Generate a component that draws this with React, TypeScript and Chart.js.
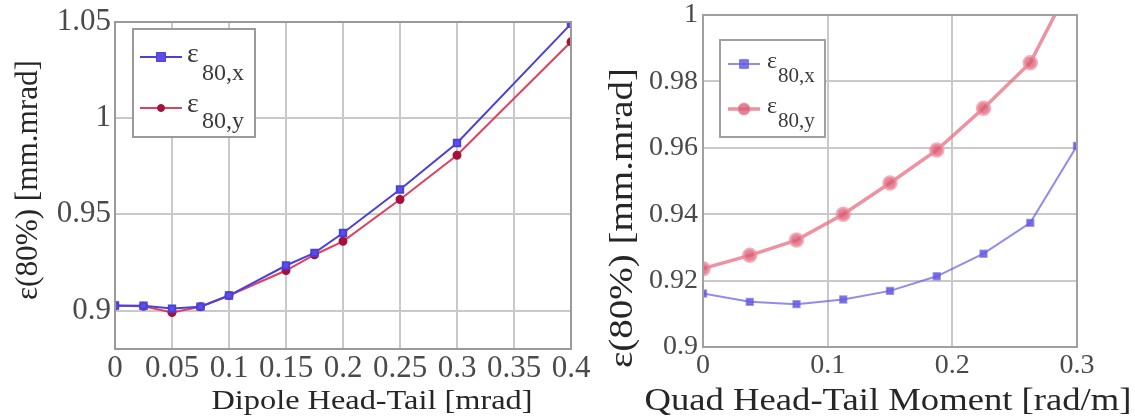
import React, { useEffect, useRef } from "react";
import { Chart, registerables } from "chart.js";

Chart.register(...registerables);

// ---- Data: left panel (dipole head-tail) ----
const dipoleHeadTail = [0, 0.025, 0.05, 0.075, 0.1, 0.15, 0.175, 0.2, 0.25, 0.3, 0.4];
const dipoleEmitX = [0.9026, 0.9025, 0.901, 0.902, 0.9078, 0.9234, 0.93, 0.9403, 0.9629, 0.9871, 1.049];
const dipoleEmitY = [0.9025, 0.9022, 0.899, 0.902, 0.9078, 0.9208, 0.929, 0.936, 0.9577, 0.9807, 1.0397];
const dipoleXTicks = [0, 0.05, 0.1, 0.15, 0.2, 0.25, 0.3, 0.35, 0.4];
const dipoleYTicks = [0.9, 0.95, 1, 1.05];

// ---- Data: right panel (quad head-tail moment) ----
const quadMoment = [0, 0.0375, 0.075, 0.1125, 0.15, 0.1875, 0.225, 0.2625, 0.3];
const quadEmitX = [0.9161, 0.9136, 0.9129, 0.9143, 0.9169, 0.9213, 0.9281, 0.9374, 0.9606];
const quadEmitY = [0.9236, 0.9276, 0.9322, 0.94, 0.9494, 0.9593, 0.9719, 0.9856, 1.013];
const quadXTicks = [0, 0.1, 0.2, 0.3];
const quadYTicks = [0.9, 0.92, 0.94, 0.96, 0.98, 1];

const seriesSubs = ["80,x", "80,y"];
const yTitle = "ε(80%) [mm.mrad]";
const leftXTitle = "Dipole Head-Tail [mrad]";
const rightXTitle = "Quad Head-Tail Moment [rad/m]";

const FONT = '"Liberation Serif", "Times New Roman", serif';

const decorPlugin = {
  id: "decor",
  afterDatasetsDraw(chart: any, _args: any, opts: any) {
    const { ctx, chartArea: a } = chart;
    ctx.save();
    // plot frame
    ctx.strokeStyle = opts.frameColor;
    ctx.lineWidth = opts.frameWidth;
    ctx.strokeRect(a.left, a.top, a.right - a.left, a.bottom - a.top);

    // legend
    const L = opts.legend;
    const x0 = a.left + L.dx;
    const y0 = a.top + L.dy;
    ctx.fillStyle = "#ffffff";
    ctx.fillRect(x0, y0, L.w, L.h);
    ctx.strokeStyle = L.border;
    ctx.lineWidth = 2;
    ctx.strokeRect(x0, y0, L.w, L.h);

    chart.data.datasets.forEach((ds: any, i: number) => {
      const y = y0 + L.rows[i];
      ctx.strokeStyle = ds.borderColor;
      ctx.lineWidth = ds.borderWidth;
      ctx.beginPath();
      ctx.moveTo(x0 + L.lineX0, y);
      ctx.lineTo(x0 + L.lineX1, y);
      ctx.stroke();
      const mx = x0 + (L.lineX0 + L.lineX1) / 2;
      const r = ds.pointRadius;
      ctx.fillStyle = ds.pointBackgroundColor;
      ctx.strokeStyle = ds.pointBorderColor;
      ctx.lineWidth = 1;
      ctx.beginPath();
      if (ds.pointStyle === "rect") {
        ctx.rect(mx - r, y - r, 2 * r, 2 * r);
      } else {
        ctx.arc(mx, y, r, 0, Math.PI * 2);
      }
      ctx.fill();
      ctx.stroke();

      ctx.fillStyle = L.textColor;
      ctx.textAlign = "left";
      ctx.textBaseline = "alphabetic";
      ctx.font = `${L.mainSize}px ${FONT}`;
      ctx.fillText("ε", x0 + L.textX, y + L.mainDy[i]);
      ctx.font = `${L.subSize}px ${FONT}`;
      ctx.fillText(seriesSubs[i], x0 + L.subX, y + L.subDy[i]);
    });
    ctx.restore();
  },
  afterDraw(chart: any, _args: any, opts: any) {
    const { ctx } = chart;
    (opts.titles || []).forEach((t: any) => {
      ctx.save();
      ctx.fillStyle = t.color;
      ctx.font = `${t.size}px ${FONT}`;
      ctx.textAlign = "center";
      ctx.textBaseline = "middle";
      const w = ctx.measureText(t.text).width;
      const stretch = t.length / w;
      ctx.translate(t.x, t.y);
      if (t.rotate) ctx.rotate(-Math.PI / 2);
      ctx.scale(stretch, 1);
      ctx.fillText(t.text, 0, 0);
      ctx.restore();
    });
  },
};

function buildConfig(p: any) {
  return {
    type: "line",
    data: { datasets: p.datasets },
    options: {
      responsive: false,
      animation: false,
      events: [],
      layout: { padding: p.padding },
      plugins: {
        legend: { display: false },
        tooltip: { enabled: false },
        decor: p.decor,
      },
      scales: {
        x: {
          type: "linear",
          min: p.xMin,
          max: p.xMax,
          afterBuildTicks: (s: any) => {
            s.ticks = p.xTicks.map((v: number) => ({ value: v }));
          },
          afterFit: (s: any) => {
            s.height = p.xAxisH;
            s.paddingLeft = 0;
            s.paddingRight = 0;
          },
          ticks: {
            autoSkip: false,
            maxRotation: 0,
            minRotation: 0,
            padding: p.xTickPad,
            color: "#4a4a4a",
            font: { family: FONT, size: p.tickSize },
            callback: (v: any) => String(v),
          },
          grid: { color: "#c9c9c9", lineWidth: 2, drawTicks: false },
          border: { display: false },
          title: { display: false },
        },
        y: {
          type: "linear",
          min: p.yMin,
          max: p.yMax,
          afterBuildTicks: (s: any) => {
            s.ticks = p.yTicks.map((v: number) => ({ value: v }));
          },
          afterFit: (s: any) => {
            s.width = p.yAxisW;
            s.paddingTop = 0;
            s.paddingBottom = 0;
          },
          ticks: {
            autoSkip: false,
            padding: p.yTickPad,
            color: "#4a4a4a",
            font: { family: FONT, size: p.tickSize },
            callback: (v: any) => String(v),
          },
          grid: { color: "#c9c9c9", lineWidth: 2, drawTicks: false },
          border: { display: false },
          title: { display: false },
        },
      },
    },
    plugins: [decorPlugin],
  } as any;
}

function toPoints(xs: number[], ys: number[]) {
  return xs.map((x, i) => ({ x, y: ys[i] }));
}

const leftConfig = () =>
  buildConfig({
    padding: { left: 0, right: 29, top: 22, bottom: 0 },
    xMin: 0,
    xMax: 0.4,
    yMin: 0.88,
    yMax: 1.05,
    xTicks: dipoleXTicks,
    yTicks: dipoleYTicks,
    xAxisH: 71,
    yAxisW: 115,
    xTickPad: 1,
    yTickPad: 4,
    tickSize: 31,
    decor: {
      frameColor: "#9a9a9a",
      frameWidth: 2,
      titles: [
        { text: leftXTitle, x: 372, y: 402, size: 28, length: 321, rotate: false, color: "#262626" },
        { text: yTitle, x: 29, y: 180, size: 31, length: 240, rotate: true, color: "#262626" },
      ],
      legend: {
        dx: 18, dy: 7, w: 122, h: 108, border: "#9a9a9a",
        rows: [28, 79], lineX0: 7, lineX1: 49,
        textX: 54, subX: 69, mainDy: [5, 4], subDy: [23, 20],
        mainSize: 28, subSize: 24, textColor: "#3a3a3a",
      },
    },
    datasets: [
      {
        label: "ε80,x",
        data: toPoints(dipoleHeadTail, dipoleEmitX),
        borderColor: "#4b41da",
        borderWidth: 2,
        pointStyle: "rect",
        pointRadius: 4.5,
        pointBackgroundColor: "#5a4fe8",
        pointBorderColor: "#4b41da",
        tension: 0,
      },
      {
        label: "ε80,y",
        data: toPoints(dipoleHeadTail, dipoleEmitY),
        borderColor: "#e0405e",
        borderWidth: 2,
        pointStyle: "circle",
        pointRadius: 3.5,
        pointBackgroundColor: "#a3123c",
        pointBorderColor: "#a3123c",
        tension: 0,
      },
    ],
  });

const rightConfig = () =>
  buildConfig({
    padding: { left: 0, right: 58, top: 15, bottom: 0 },
    xMin: 0,
    xMax: 0.3,
    yMin: 0.9,
    yMax: 1,
    xTicks: quadXTicks,
    yTicks: quadYTicks,
    xAxisH: 73,
    yAxisW: 103,
    xTickPad: 2,
    yTickPad: 5,
    tickSize: 28,
    decor: {
      frameColor: "#a0a0a0",
      frameWidth: 2,
      titles: [
        { text: rightXTitle, x: 288, y: 402, size: 32, length: 487, rotate: false, color: "#262626" },
        { text: yTitle, x: 23, y: 218, size: 34, length: 300, rotate: true, color: "#262626" },
      ],
      legend: {
        dx: 17, dy: 25, w: 105, h: 97, border: "#a0a0a0",
        rows: [24, 69], lineX0: 8, lineX1: 40,
        textX: 47, subX: 58, mainDy: [4, 4], subDy: [18, 18],
        mainSize: 24, subSize: 21, textColor: "#3a3a3a",
      },
    },
    datasets: [
      {
        label: "ε80,x",
        data: toPoints(quadMoment, quadEmitX),
        borderColor: "rgba(110,100,230,0.75)",
        borderWidth: 2,
        pointStyle: "rect",
        pointRadius: 4.5,
        pointBackgroundColor: "rgba(100,90,225,0.85)",
        pointBorderColor: "rgba(100,90,225,0.6)",
        tension: 0,
      },
      {
        label: "ε80,y",
        data: toPoints(quadMoment, quadEmitY),
        borderColor: "rgba(232,110,130,0.75)",
        borderWidth: 3.5,
        pointStyle: "circle",
        pointRadius: 6,
        pointBackgroundColor: "rgba(215,90,115,0.75)",
        pointBorderColor: "rgba(240,140,155,0.7)",
        tension: 0,
      },
    ],
  });

function ChartCanvas({ left, width, make }: { left: number; width: number; make: () => any }) {
  const ref = useRef<HTMLCanvasElement | null>(null);
  useEffect(() => {
    if (!ref.current) return;
    const chart = new Chart(ref.current, make());
    return () => chart.destroy();
  }, [make]);
  return (
    <canvas
      ref={ref}
      width={width}
      height={420}
      style={{ position: "absolute", left, top: 0, width, height: 420 }}
    />
  );
}

export default function App() {
  return (
    <div
      style={{
        position: "fixed",
        left: 0,
        top: 0,
        width: 1135,
        height: 420,
        background: "#ffffff",
        overflow: "hidden",
      }}
    >
      <ChartCanvas left={0} width={600} make={leftConfig} />
      <ChartCanvas left={600} width={535} make={rightConfig} />
    </div>
  );
}
